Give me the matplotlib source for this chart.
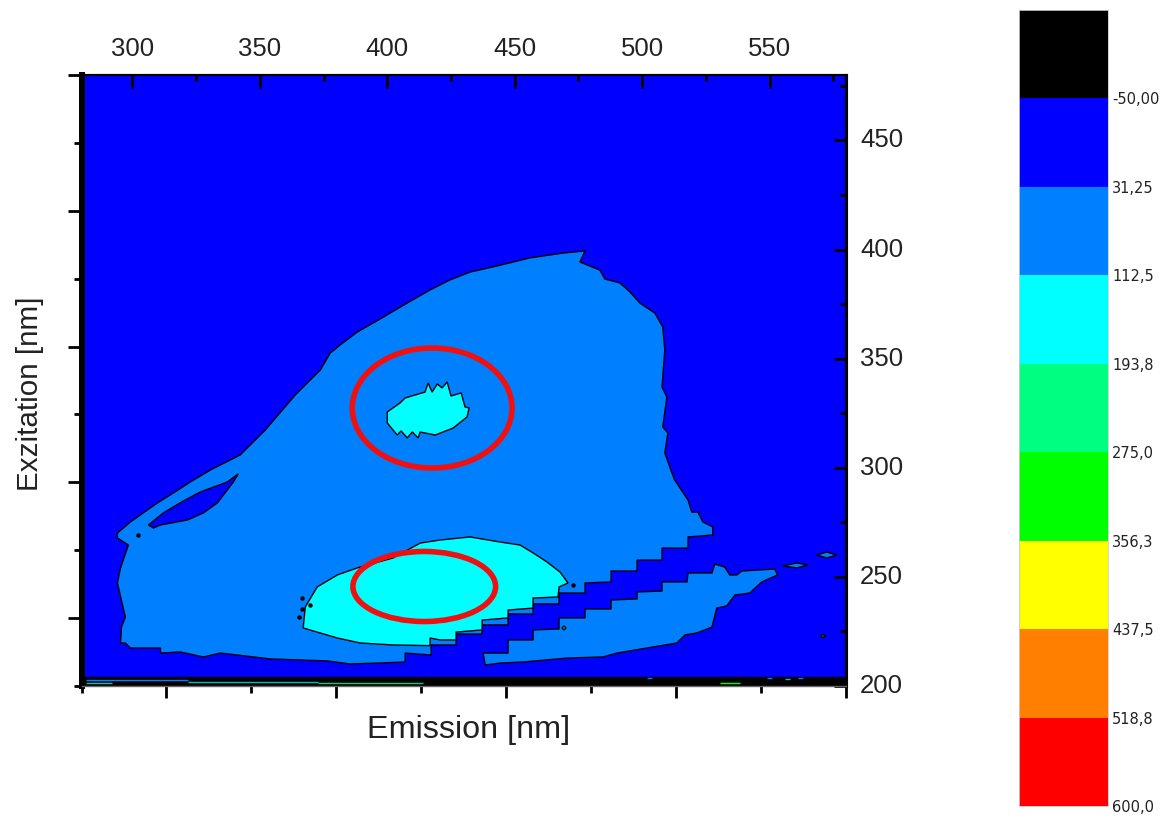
import numpy as np
import matplotlib
matplotlib.use("Agg")
import matplotlib.pyplot as plt
from matplotlib.patches import Ellipse
from matplotlib.transforms import ScaledTranslation

plt.rcParams['font.family'] = ['Liberation Sans', 'DejaVu Sans']

# ---- colour scale ----
level_labels = ['-50,00', '31,25', '112,5', '193,8', '275,0', '356,3', '437,5', '518,8', '600,0']
level_colors = ['#000000', '#0000FF', '#0080FF', '#00FFFF', '#00FF80', '#00FF00', '#FFFF00', '#FF8000', '#FF0000']

# ---- contour outlines (emission nm, excitation nm) ----
main_em = [377.6,381.5,388.2,397.2,407.8,416.8,424.6,432.5,443.1,456,468.9,477.6,475.6,483.4,485.4,491.3,495.2,499.1,505,508.1,508.9,507.8,509.7,508.1,510.1,508.9,511.7,512.8,518,519.5,521.9,523.8,527.7,527.7,518,518,507.8,507.8,498,498,487.8,487.8,477.6,477.6,467.4,467.4,457.2,457.2,447.4,447.4,437.2,437.2,427,427,417.2,417.2,407,407,396,385.4,376.4,354.1,334.5,327.8,318.8,311,311,299.2,297.2,295.3,295.7,297.2,294.1,295.3,298.4,294.1,294.1,299.2,309.8,316.1,322.7,330.6,342.3,352.1,363.9,373.7]
main_ex = [352.6,356.3,362.2,368.2,375.5,381.5,386.1,389.7,392.5,396.2,398.4,399.4,394.3,390.6,386.5,384.7,380.6,375.5,370.9,364.5,354,337,332.4,318.7,316,306.8,297.6,294.4,285.2,279.7,279.7,275.2,272.9,269.2,268.3,263.2,263.2,257.7,257.7,252.7,252.7,247.7,247.2,242.6,242.6,237.6,237.6,233,233,228,228,223.8,223.8,218.8,218.8,214.2,215.1,211,210.5,210.1,211.5,212.4,215.1,213.3,215.6,215.1,217.4,217.4,219.7,219.7,227,231.6,247.2,254.1,264.6,267.8,270.1,275.2,283.9,288.5,293.5,299,305.9,317.3,333.4,344.8]

hole_em = [306.3,312.1,320,326.6,337.2,341.5,339.6,333.3,327.8,321.6,311,308.2]
hole_ex = [273.8,279.3,284.8,288.9,293.5,297.2,293.5,283.9,279.3,276.1,273.8,272.4]

low_cyan_em = [367,367.8,372.5,380.4,388.2,402.3,412.9,420.7,432.5,444.2,452.1,457.2,462.7,467.8,470.9,467.4,467,457.2,457.2,447.4,447.4,437.2,437.2,427,427,420.7,416.8,416.8,402.3,389.4,380.4,372.5]
low_cyan_ex = [226.6,236.2,245.4,250.9,254.1,258.7,265.5,266.9,268.3,266,264.6,261,256.8,252.2,247.2,245.4,240.8,240.3,235.7,234.8,231.2,230.2,225.7,224.7,221.1,221.1,222,218.5,218.8,219.7,222,224.7]

up_cyan_em = [400,405,407,414.8,416,417.6,419.6,421.5,423.5,425,429,430.5,432.1,431.3,425.8,418.8,412.9,412.1,409.8,407.8,405.4,403.9,400]
up_cyan_ex = [325.6,329.7,332,334.7,338.9,334.7,338.4,336.6,339.3,332.9,334.3,327.9,327.4,323.3,318.2,315,316.4,313.7,316.4,313.7,316.9,315,320.5]

island_em = [437.6,443.5,447.4,447.4,457.2,457.2,467.4,467.4,477.6,477.6,487.8,487.8,498,498,507.8,507.8,517.6,518,527.4,528.5,532.4,534.4,537.2,539.1,552,553.2,547,542.2,536.4,533.2,529.3,527.4,521.5,516.8,513.6,501.9,490.1,484.6,470.5,453.3,444.2,438.4]
island_ex = [215.1,215.1,215.1,221.1,221.1,225.7,226.1,231.2,231.2,235.3,235.3,239.4,239.9,243.1,243.5,247.7,247.7,251.8,251.8,255.9,254.5,250.9,250.9,252.7,253.6,250.9,247.7,242.6,241.7,236.7,235.7,227,224.3,223.4,219.7,217.4,215.1,213.3,212.8,211,210.5,209.6]

spot_a_em = [568.5,572.4,576.4,572.4]
spot_a_ex = [260,261.4,260,258.7]
spot_b_em = [555.2,560.7,565,560.7]
spot_b_ex = [255,256.4,255.5,254.1]
spot_c_em = [569.8,570.9,572,570.9]
spot_c_ex = [222.9,223.6,222.9,222.2]
spot_d_em = [468.6,469.3,470.1,469.3]
spot_d_ex = [226.6,227.5,226.6,225.7]

# tiny dark specks along the contours
speck_em = [366.6,366.6,369.5,365.4,302.3,472.9]
speck_ex = [235.5,240.5,237.0,231.7,269.2,246.3]

band_em = [280,580,580,280]
band_ex = [200,200,204.1,204.1]

# thin traces in the lowest band
trace_start = [281.6,281.6,321.6,373,530.5,502,549,556,561]
trace_end = [321.6,292,373,414,538.4,504,551,558,563]
trace_ex = [202.7,201.4,202,201.4,201.4,203.7,203.7,203.2,203.7]
trace_colors = ['#0080FF','#00C0C0','#00C0C0','#00D080','#00FF00','#0080FF','#0080FF','#00C0C0','#0080FF']

# circled regions: centre emission, centre excitation, width, height
ring_em = [417.6,414.5]
ring_ex = [327.4,245.6]
ring_w = [62.7,56]
ring_h = [55,32.1]

W, H = 1171, 816
fig = plt.figure(figsize=(W/100, H/100), dpi=100, facecolor='white')
ax = fig.add_axes([81.5/W, 1-686/H, (846-81.5)/W, (686-75)/H])
ax.set_xlim(280, 580)
ax.set_ylim(200, 480)
ax.set_facecolor('#0000FF')

edge = dict(edgecolor='black', linewidth=1.0, joinstyle='miter')
ax.fill(band_em, band_ex, color='black', zorder=1)
for s, e, y, c in zip(trace_start, trace_end, trace_ex, trace_colors):
    ax.plot([s, e], [y, y], color=c, lw=1.0, zorder=1.5, solid_capstyle='butt')
ax.fill(main_em, main_ex, facecolor='#0080FF', zorder=2, **edge)
ax.fill(hole_em, hole_ex, facecolor='#0000FF', zorder=3, **edge)
ax.fill(island_em, island_ex, facecolor='#0080FF', zorder=2, **edge)
for ex_, ey_ in [(spot_a_em, spot_a_ex), (spot_b_em, spot_b_ex), (spot_c_em, spot_c_ex)]:
    ax.fill(ex_, ey_, facecolor='#0080FF', zorder=2, **edge)
ax.fill(spot_d_em, spot_d_ex, facecolor='#00FFFF', zorder=3, **edge)
ax.fill(low_cyan_em, low_cyan_ex, facecolor='#00FFFF', zorder=3, **edge)
ax.fill(up_cyan_em, up_cyan_ex, facecolor='#00FFFF', zorder=3, **edge)
ax.plot(speck_em, speck_ex, ls='none', marker='o', ms=2.2, color='black', zorder=4)
for x, y, w, h in zip(ring_em, ring_ex, ring_w, ring_h):
    ax.add_patch(Ellipse((x, y), w, h, fill=False, edgecolor='#F01010', lw=4.0, zorder=5))

# left/bottom ticks carry no labels
ax.set_xticks([313.33, 380, 446.67, 513.33, 580])
ax.set_xticks([280, 346.67, 413.33, 480, 546.67], minor=True)
ax.set_yticks([231.11, 293.33, 355.56, 417.78, 480])
ax.set_yticks([200, 262.22, 324.44, 386.67, 448.89], minor=True)
ax.tick_params(axis='both', which='both', labelbottom=False, labelleft=False, direction='out', width=2.0, color='black')
ax.tick_params(axis='x', which='major', length=8.6)
ax.tick_params(axis='x', which='minor', length=5)
ax.tick_params(axis='y', which='major', length=10)
ax.tick_params(axis='y', which='minor', length=5.5)

ax.spines['left'].set_linewidth(4.3)
ax.spines['top'].set_linewidth(1.5)
ax.spines['right'].set_linewidth(2.2)
ax.spines['bottom'].set_linewidth(1.0)
ax.spines['bottom'].set_color('#666666')

top = ax.secondary_xaxis('top')
top.set_xticks([300, 350, 400, 450, 500, 550])
top.set_xticks([325, 375, 425, 475, 525, 575], minor=True)
top.tick_params(axis='x', which='major', direction='in', length=9.5, width=2.0, pad=10, labelsize=18.5, labelcolor='#222222')
top.tick_params(axis='x', which='minor', direction='in', length=4.5, width=2.0)
top.spines['top'].set_linewidth(1.5)

right = ax.secondary_yaxis('right')
right.set_yticks([200, 250, 300, 350, 400, 450])
right.set_yticks([225, 275, 325, 375, 425, 475], minor=True)
right.tick_params(axis='y', which='major', direction='in', length=9, width=2.0, pad=10, labelsize=18.5, labelcolor='#222222')
right.tick_params(axis='y', which='minor', direction='in', length=4.5, width=2.0)
right.spines['right'].set_linewidth(2.2)
shift = ScaledTranslation(0, 2.5/100, fig.dpi_scale_trans)
for lab in right.get_yticklabels():
    lab.set_transform(lab.get_transform() + shift)

fig.text(468.5/W, 1-730/H, 'Emission [nm]', ha='center', va='center', fontsize=23.3, color='#222222')
fig.text(30/W, 1-394/H, 'Exzitation [nm]', ha='center', va='center', rotation=90, fontsize=21.3, color='#222222')

# colour bar
cax = fig.add_axes([1019/W, 1-806/H, (1108-1019)/W, (806-10)/H])
edges = np.arange(len(level_colors) + 1)
cax.pcolormesh([0, 1], edges, np.arange(len(level_colors)).reshape(-1, 1),
               cmap=matplotlib.colors.ListedColormap(level_colors), shading='flat')
cax.set_ylim(len(level_colors), 0)
cax.set_xticks([])
cax.yaxis.tick_right()
cax.set_yticks(edges[1:])
cax.set_yticklabels(level_labels, fontsize=10.5, color='#222222', family='DejaVu Sans')
cax.tick_params(axis='y', length=0, pad=3)
for s in cax.spines.values():
    s.set_linewidth(0.6)
    s.set_color('#cccccc')

fig.savefig('out.png', dpi=100)
